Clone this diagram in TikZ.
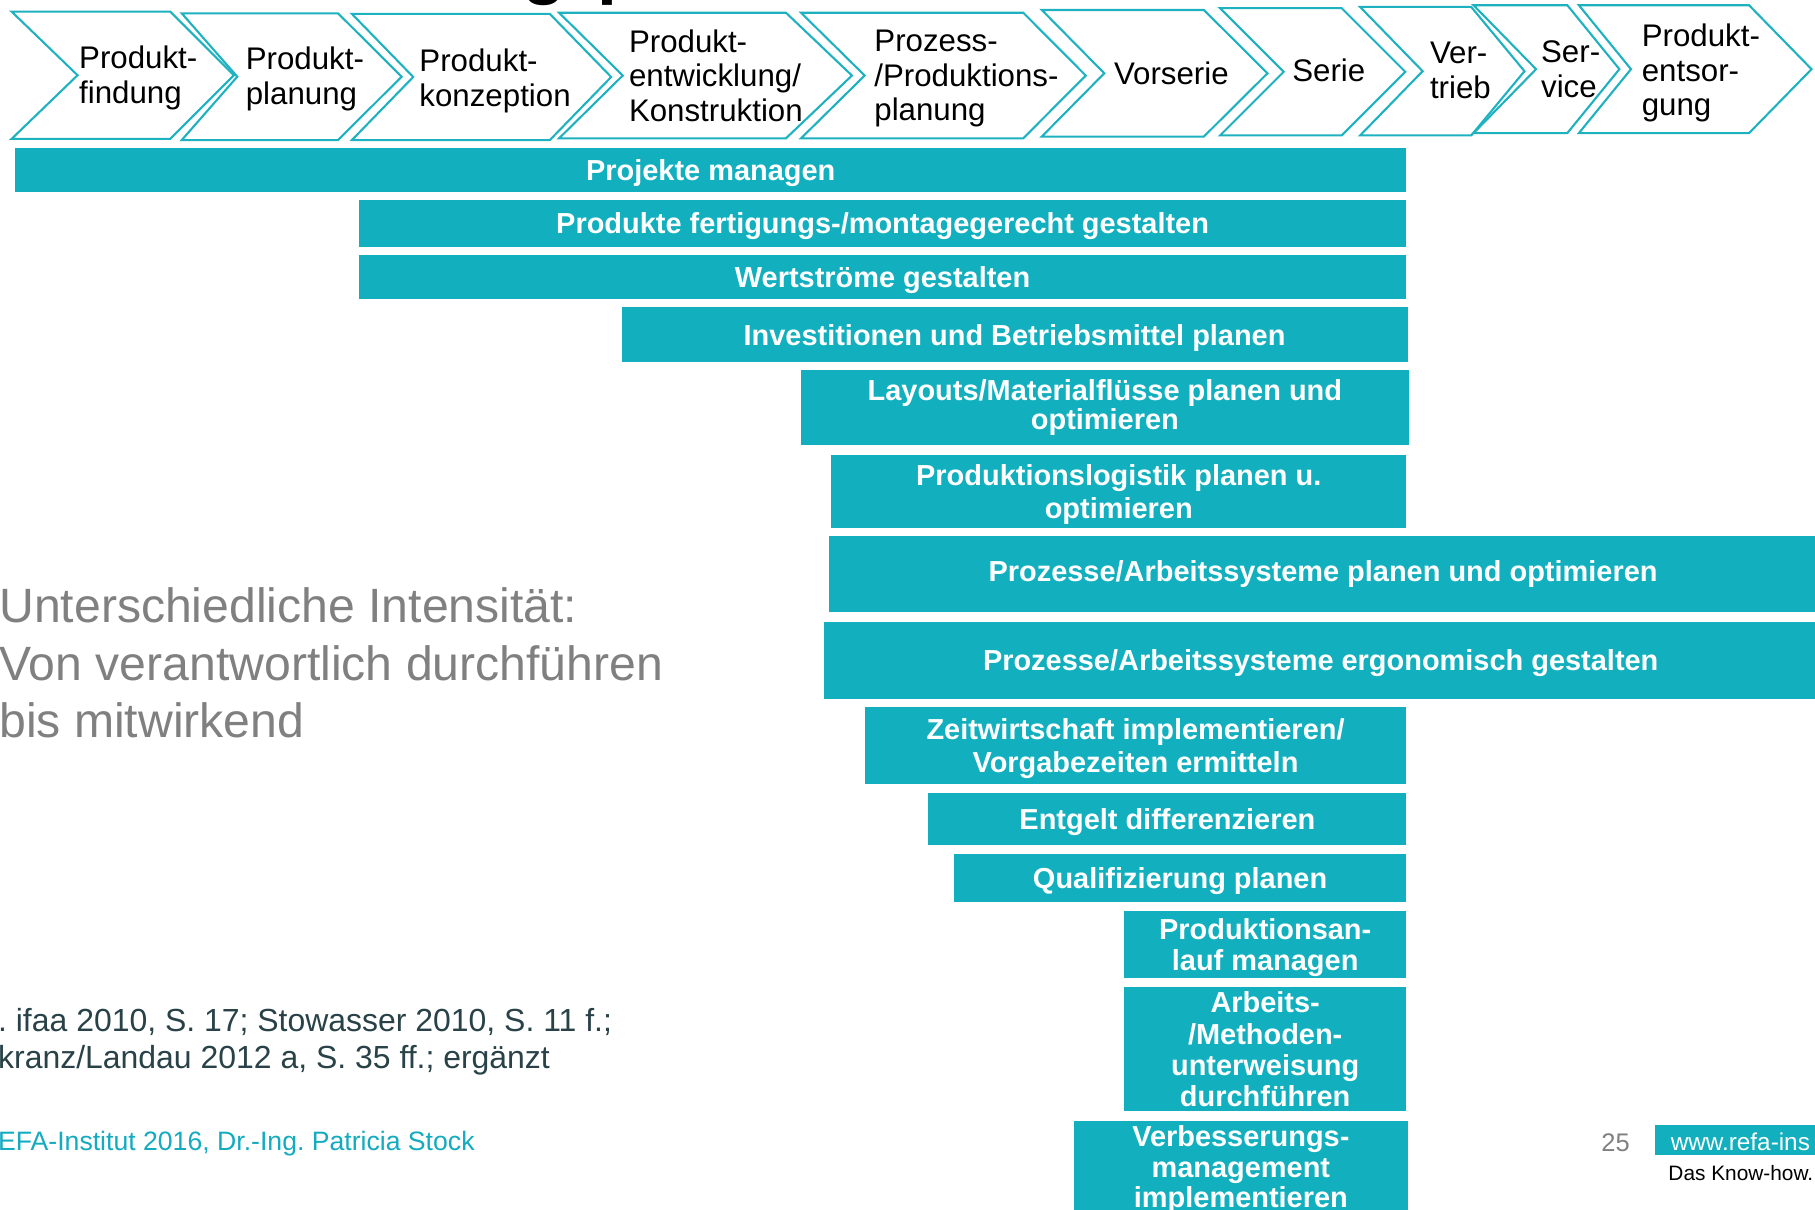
\documentclass[tikz,border=0pt]{standalone}
\usepackage{fontspec}
\setmainfont{Liberation Sans}
\frenchspacing
\definecolor{refa}{RGB}{18,176,190}
\definecolor{refaline}{RGB}{30,178,192}
\definecolor{refatext}{RGB}{20,170,192}
\definecolor{greytext}{RGB}{128,128,128}
\definecolor{slatetext}{RGB}{40,66,72}
\newcommand\myfs[2]{\fontsize{#1pt}{#2pt}\selectfont}
\newcommand\mychev[6]{\draw[chev] (#1,#5) -- (#3,#5) -- (#4,{(#5+#6)/2}) -- (#3,#6) -- (#1,#6) -- (#2,{(#5+#6)/2}) -- cycle;}
\newcommand\mybar[7][bardrop]{\node[bar, #1, minimum width={(#4-#2)*0.5pt}, minimum height={(#5-#3)*0.5pt}] (#6) at ({(#2+#4)/2},{(#3+#5)/2}) {#7};}
\begin{document}
\begin{tikzpicture}[x=0.5pt,y=-0.5pt,
  chev/.style={draw=refaline, line width=0.9pt, line join=miter, fill=white},
  ctext/.style={anchor=west, align=left, inner sep=0pt, font=\myfs{13.5}{15}},
  bar/.style={fill=refa, draw=none, inner sep=0pt, text=white, align=center, font=\bfseries\myfs{12.5}{13.5}},
  bardrop/.style={text depth=0pt},
  title/.style={anchor=base west, inner sep=0pt, font=\bfseries\myfs{31}{31}},
  grey/.style={anchor=base west, inner sep=0pt, text=greytext, font=\myfs{20.8}{25}},
  refs/.style={anchor=base west, inner sep=0pt, text=slatetext, font=\myfs{13.8}{16}}]
\useasboundingbox (0,0) rectangle (1568,1045);
\fill[white] (0,0) rectangle (1568,1045);
% cut-off title
\node[title] (tg) at (451,-8) {g};
\node[title] (tp) at (516,-8) {p};
% process chevrons
\mychev{10}{67}{147}{202}{10}{120}
\mychev{157}{205}{292}{347}{11.5}{121}
\mychev{304}{357}{475}{528}{12}{121}
\mychev{483}{538}{679}{736}{11}{119.5}
\mychev{692}{747}{884}{938}{11}{119.5}
\mychev{900}{954}{1040}{1095}{8.6}{118}
\mychev{1054}{1109}{1159}{1214}{7}{117}
\mychev{1175}{1229}{1271}{1317}{6}{117}
\mychev{1273}{1327}{1354}{1399}{4.5}{115}
\mychev{1364}{1409}{1511}{1565}{4.5}{115}
\node[ctext] (c1) at (68,67) {Produkt-\\findung};
\node[ctext] (c2) at (212,68) {Produkt-\\planung};
\node[ctext] (c3) at (362,70) {Produkt-\\konzeption};
\node[ctext] (c4) at (543,65.5) {Produkt-\\entwicklung/\\Konstruktion};
\node[ctext] (c5) at (755,68) {Prozess-\\/Produktions-\\planung};
\node[ctext] (c6) at (962,63) {Vorserie};
\node[ctext] (c7) at (1116,61) {Serie};
\node[ctext] (c8) at (1235,61) {Ver-\\trieb};
\node[ctext] (c9) at (1331,60) {Ser-\\vice};
\node[ctext] (c10) at (1418,63) {Produkt-\\entsor-\\gung};
% task bars
\mybar{13}{128}{1215}{166}{b1}{Projekte managen}
\mybar{310}{173}{1215}{213}{b2}{Produkte fertigungs-/montagegerecht gestalten}
\mybar{310}{220}{1215}{258}{b3}{Wertströme gestalten}
\mybar{537}{265}{1216}{313}{b4}{Investitionen und Betriebsmittel planen}
\mybar[font=\bfseries\myfs{12.5}{12.5}]{692}{320}{1217}{384}{b5}{Layouts/Materialflüsse planen und\\optimieren}
\mybar[bardrop, font=\bfseries\myfs{12.5}{14.5}]{718}{393}{1215}{456}{b6}{Produktionslogistik planen u.\\optimieren}
\mybar[font=\bfseries\myfs{12.5}{13.5}]{716}{463}{1570}{529}{b7}{Prozesse/Arbeitssysteme planen und optimieren}
\mybar{712}{537}{1570}{604}{b8}{Prozesse/Arbeitssysteme ergonomisch gestalten}
\mybar[bardrop, font=\bfseries\myfs{12.5}{14.5}]{747}{611}{1215}{677}{b9}{Zeitwirtschaft implementieren/\\Vorgabezeiten ermitteln}
\mybar{802}{685}{1215}{730}{b10}{Entgelt differenzieren}
\mybar{824}{738}{1215}{779}{b11}{Qualifizierung planen}
\mybar{971}{787}{1215}{845}{b12}{Produktionsan-\\lauf managen}
\mybar[font=\bfseries\myfs{12.5}{13.5}]{971}{853}{1215}{960}{b13}{Arbeits-\\/Methoden-\\unterweisung\\durchführen}
\mybar[bardrop, font=\bfseries\myfs{12.5}{13.25}]{928}{968}{1216}{1048}{b14}{Verbesserungs-\\management\\implementieren}
% left texts
\node[grey] (g1) at (-1,538) {Unterschiedliche Intensität:};
\node[grey] (g2) at (-1,588) {Von verantwortlich durchführen};
\node[grey] (g3) at (-1,637) {bis mitwirkend};
\node[refs] (r1) at (-2,891) {. ifaa 2010, S. 17; Stowasser 2010, S. 11 f.;};
\node[refs] (r2) at (-2,923) {kranz/Landau 2012 a, S. 35 ff.; ergänzt};
\node[anchor=base west, inner sep=0pt, text=refatext, font=\myfs{11.5}{13}] (cr) at (-2,994) {EFA-Institut 2016, Dr.-Ing. Patricia Stock};
% footer right
\node[anchor=base west, inner sep=0pt, text=greytext, font=\myfs{11}{13}] (pg) at (1383,995) {25};
\fill[refa] (1430,972) rectangle (1575,998);
\node[anchor=base west, inner sep=0pt, text=white, font=\myfs{10.5}{12}] (www) at (1443,993.5) {www.refa-ins};
\node[anchor=base west, inner sep=0pt, text=black, font=\myfs{9}{11}] (kh) at (1441,1019.5) {Das Know-how.};
\end{tikzpicture}
\end{document}
